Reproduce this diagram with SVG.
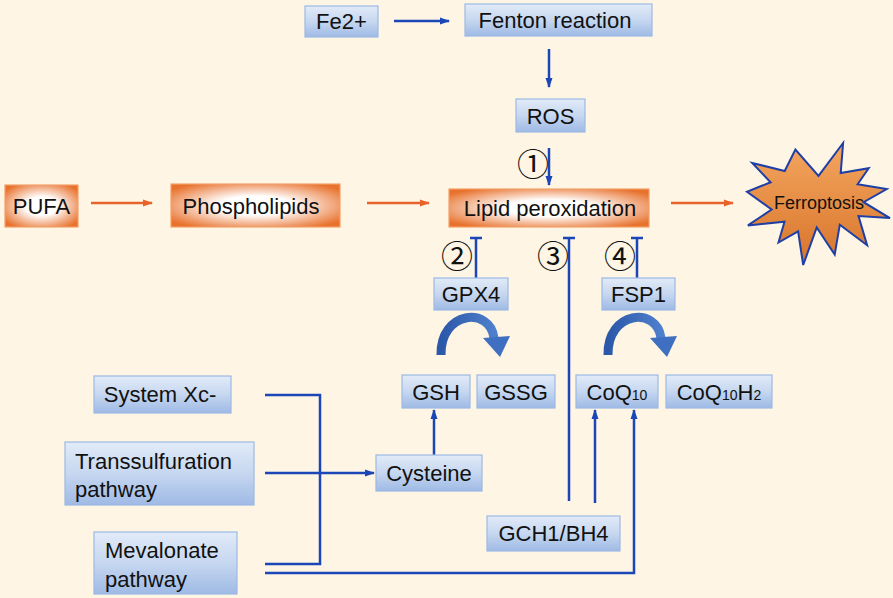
<svg xmlns="http://www.w3.org/2000/svg" width="893" height="598" viewBox="0 0 893 598">
<defs>
<linearGradient id="gBlue" x1="0" y1="0" x2="0" y2="1">
<stop offset="0" stop-color="#E2EBF8"/>
<stop offset="0.5" stop-color="#C6D7F0"/>
<stop offset="1" stop-color="#9FBAE5"/>
</linearGradient>
<radialGradient id="gOrange" cx="0.5" cy="0.5" r="0.62">
<stop offset="0" stop-color="#FFFFFF"/>
<stop offset="0.35" stop-color="#FFFFFF"/>
<stop offset="1" stop-color="#E8712C"/>
</radialGradient>
<linearGradient id="gStar" x1="0" y1="0" x2="0" y2="1">
<stop offset="0" stop-color="#F4A660"/>
<stop offset="1" stop-color="#D8742A"/>
</linearGradient>
<linearGradient id="gCurve" x1="0" y1="0" x2="1" y2="0">
<stop offset="0" stop-color="#2B58A8"/>
<stop offset="1" stop-color="#4E7FCC"/>
</linearGradient>
<marker id="ab" markerUnits="userSpaceOnUse" markerWidth="10" markerHeight="8" refX="9" refY="4" orient="auto">
<path d="M0,0.5 L10,4 L0,7.5 z" fill="#1B46B8"/>
</marker>
<marker id="ao" markerUnits="userSpaceOnUse" markerWidth="10" markerHeight="8" refX="9" refY="4" orient="auto">
<path d="M0,0.5 L10,4 L0,7.5 z" fill="#E8632A"/>
</marker>
</defs>
<style>
.b{fill:url(#gBlue);stroke:#9BB9E4;stroke-width:1.2}
.o{fill:url(#gOrange);stroke:#F2A06A;stroke-width:1.2}
text{font-family:"Liberation Sans",Arial,sans-serif;font-size:22px;fill:#111}
.c{text-anchor:middle}
.n{font-family:"Noto Sans CJK SC","DejaVu Sans",sans-serif;font-size:32px;text-anchor:middle}
.lb{fill:none;stroke:#1B46B8;stroke-width:2.5}
.lo{fill:none;stroke:#E8632A;stroke-width:2.5}
.cv{fill:none;stroke:url(#gCurve);stroke-width:9}
.hd{fill:#3F6FC0}
.s{font-size:14px}
</style>
<rect width="893" height="598" fill="#FEF5E4"/>

<g id="connectors">
<line class="lb" x1="394" y1="21" x2="449" y2="21" marker-end="url(#ab)"/>
<line class="lb" x1="549" y1="49" x2="549" y2="87" marker-end="url(#ab)"/>
<line class="lb" x1="549" y1="148" x2="549" y2="185" marker-end="url(#ab)"/>
<line class="lo" x1="91" y1="203" x2="152" y2="203" marker-end="url(#ao)"/>
<line class="lo" x1="367" y1="203" x2="429" y2="203" marker-end="url(#ao)"/>
<line class="lo" x1="671" y1="203" x2="733" y2="203" marker-end="url(#ao)"/>
<path class="lb" d="M476,278 V238 M470,238 H482"/>
<path class="lb" d="M569,501 V238 M563,238 H575"/>
<path class="lb" d="M637,278 V238 M631,238 H643"/>
<line class="lb" x1="434" y1="455" x2="434" y2="410" marker-end="url(#ab)"/>
<polyline class="lb" points="265,395 320,395 320,564 265,564"/>
<line class="lb" x1="265" y1="473" x2="374" y2="473" marker-end="url(#ab)"/>
<line class="lb" x1="595" y1="503" x2="595" y2="410" marker-end="url(#ab)"/>
<polyline class="lb" points="265,573 634,573 634,410" marker-end="url(#ab)"/>
<path class="cv" d="M441,355 C440,311 490,306 494,338"/>
<polygon class="hd" points="483,338 510,336 500,357"/>
<path class="cv" d="M608,355 C607,311 657,306 661,338"/>
<polygon class="hd" points="650,338 677,336 667,357"/>
</g>

<g id="labels">
<text class="n" x="533" y="176">①</text>
<text class="n" x="457" y="268">②</text>
<text class="n" x="553" y="268">③</text>
<text class="n" x="620" y="268">④</text>
</g>

<g id="fe2"><rect class="b" x="305" y="6" width="73" height="31"/><text class="c" x="341.5" y="29">Fe2+</text></g>
<g id="fenton"><rect class="b" x="465" y="4" width="187" height="32"/><text class="c" x="555" y="28">Fenton reaction</text></g>
<g id="ros"><rect class="b" x="516" y="99" width="69" height="33"/><text class="c" x="550.5" y="124">ROS</text></g>
<g id="pufa"><rect class="o" x="5" y="185" width="73" height="42"/><text class="c" x="41.5" y="214">PUFA</text></g>
<g id="phospholipids"><rect class="o" x="171" y="184" width="169" height="43"/><text class="c" x="251" y="214">Phospholipids</text></g>
<g id="lipid"><rect class="o" x="449" y="189" width="200" height="38"/><text class="c" x="550" y="216">Lipid peroxidation</text></g>
<g id="ferroptosis">
<polygon points="818.5,175.8 843.1,143 840.7,173.1 868.7,168.2 857.6,184.3 886.7,189 863.6,202.2 890,218.1 858.5,216.1 867.1,245.2 839.8,224.7 834.7,254.5 816.7,227.4 803.2,265 798.1,231.3 778.5,242.5 784.5,221.7 747.9,225.4 771.6,209.5 747,191.7 770.6,182.3 752.3,163 784.7,171 795.4,149.5" fill="url(#gStar)" stroke="#1E3FA6" stroke-width="2" stroke-linejoin="miter"/>
<text class="c" x="819" y="209" style="font-size:18px">Ferroptosis</text>
</g>
<g id="gpx4"><rect class="b" x="434" y="278" width="74" height="32"/><text class="c" x="471" y="302">GPX4</text></g>
<g id="fsp1"><rect class="b" x="602" y="278" width="73" height="32"/><text class="c" x="638.5" y="302">FSP1</text></g>
<g id="gsh"><rect class="b" x="402" y="375" width="68" height="33"/><text class="c" x="436" y="400">GSH</text></g>
<g id="gssg"><rect class="b" x="477" y="375" width="78" height="33"/><text class="c" x="516" y="400">GSSG</text></g>
<g id="coq10"><rect class="b" x="576" y="375" width="82" height="33"/><text class="c" x="617" y="400">CoQ<tspan class="s">10</tspan></text></g>
<g id="coq10h2"><rect class="b" x="666" y="375" width="106" height="33"/><text class="c" x="719" y="400">CoQ<tspan class="s">10</tspan>H<tspan class="s">2</tspan></text></g>
<g id="systemxc"><rect class="b" x="94" y="376" width="137" height="37"/><text class="c" x="160" y="402">System Xc-</text></g>
<g id="transsulfuration"><rect class="b" x="65" y="442" width="189" height="63"/><text x="75" y="469">Transsulfuration</text><text x="75" y="497">pathway</text></g>
<g id="cysteine"><rect class="b" x="376" y="455" width="106" height="36"/><text class="c" x="429" y="481">Cysteine</text></g>
<g id="gch1"><rect class="b" x="487" y="516" width="133" height="35"/><text class="c" x="553.5" y="541">GCH1/BH4</text></g>
<g id="mevalonate"><rect class="b" x="94" y="532" width="143" height="62"/><text x="105" y="558">Mevalonate</text><text x="105" y="587">pathway</text></g>
</svg>
